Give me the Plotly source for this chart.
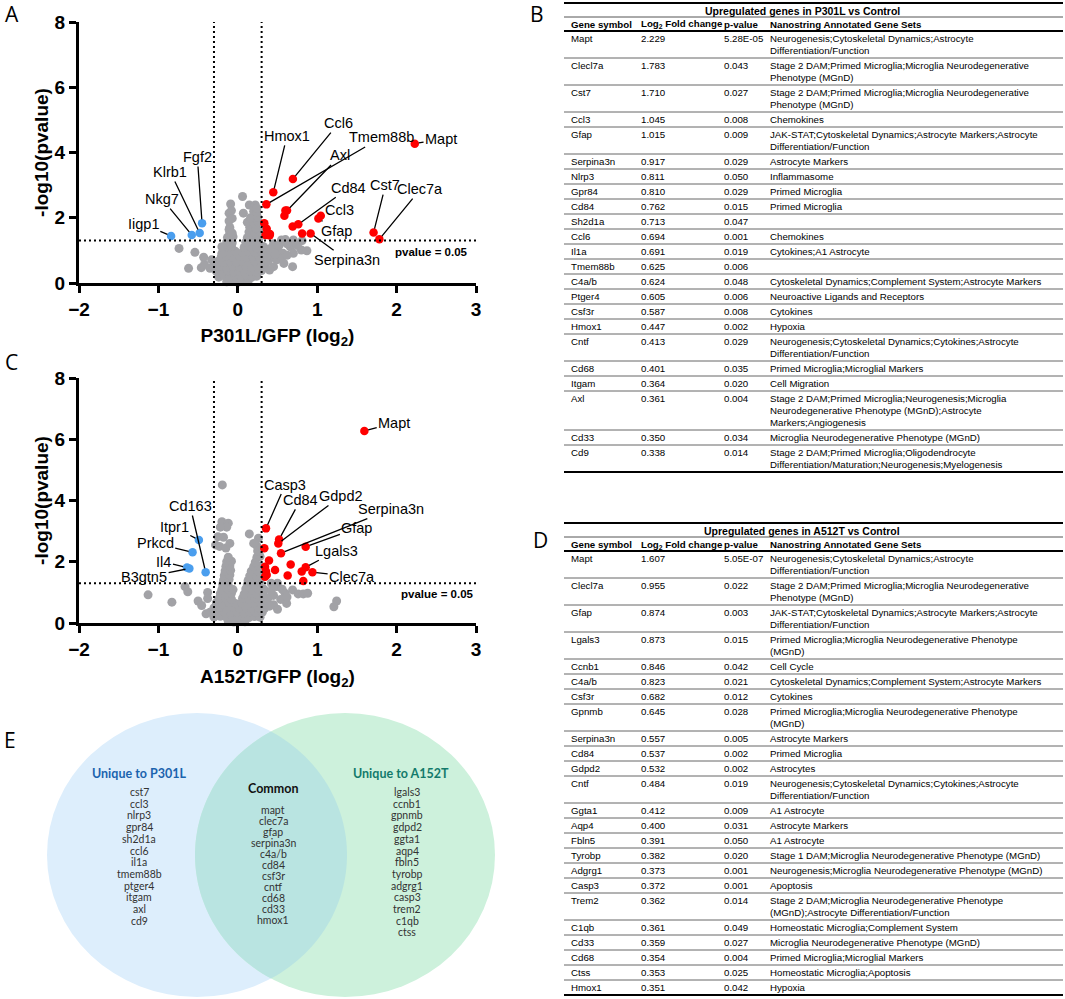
import numpy as np
import plotly.graph_objects as go

W, H = 1065, 999

# ---------- panel A: P301L vs GFP ----------
gray_a = [
    (-0.14, 0.04), (-0.07, 0.08), (0.0, 0.02), (0.06, 0.07), (0.13, 0.05),
    (-0.24, 0.18), (-0.17, 0.22), (-0.1, 0.17), (-0.03, 0.21), (0.04, 0.19), (0.11, 0.23), (0.18, 0.18), (0.24, 0.21),
    (-0.27, 0.36), (-0.2, 0.33), (-0.12, 0.37), (-0.05, 0.34), (0.02, 0.36), (0.09, 0.33), (0.16, 0.37), (0.23, 0.34), (0.3, 0.38),
    (-0.29, 0.49), (-0.22, 0.52), (-0.14, 0.48), (-0.06, 0.51), (0.02, 0.49), (0.1, 0.52), (0.18, 0.48), (0.26, 0.51), (0.34, 0.5),
    (-0.25, 0.66), (-0.18, 0.63), (-0.1, 0.67), (-0.02, 0.64), (0.06, 0.66), (0.14, 0.63), (0.22, 0.67), (0.3, 0.64), (0.38, 0.66),
    (-0.21, 0.79), (-0.14, 0.82), (-0.06, 0.78), (0.03, 0.81), (0.11, 0.79), (0.19, 0.82), (0.27, 0.79), (0.35, 0.81), (0.42, 0.78),
    (-0.18, 0.96), (-0.1, 0.93), (-0.03, 0.97), (0.06, 0.94), (0.14, 0.96), (0.22, 0.93), (0.3, 0.97), (0.38, 0.95),
    (-0.16, 1.1), (-0.08, 1.12), (0.08, 1.09), (0.16, 1.11), (0.24, 1.08), (0.32, 1.12),
    (-0.14, 1.26), (-0.07, 1.23), (0.1, 1.25), (0.18, 1.27), (0.26, 1.24),
    (-0.13, 1.4), (-0.06, 1.42), (0.12, 1.39), (0.2, 1.41), (0.27, 1.38),
    (-0.1, 1.55), (0.14, 1.56), (0.22, 1.53), (0.28, 1.57),
    (-0.1, 1.7), (0.15, 1.71), (0.23, 1.68),
    (0.12, 1.86), (0.2, 1.84), (0.26, 1.87),
    (0.16, 2.0), (0.25, 2.02), (0.2, 2.2), (0.24, 2.18),
    (0.06, 2.65), (-0.09, 2.42), (-0.11, 2.14), (-0.08, 2.22), (0.145, 2.39), (0.22, 2.39), (0.24, 2.29), (0.07, 2.14),
    (-0.11, 1.9), (-0.07, 1.98), (-0.11, 1.64), (-0.07, 1.53),
    (-0.74, 1.06), (-0.54, 0.94), (-0.62, 0.45), (-0.46, 0.47), (-0.42, 0.57), (-0.35, 0.45), (-0.33, 0.71),
    (-0.43, 0.79), (-0.2, 0.91), (-0.2, 1.11),
    (0.55, 1.32), (0.6, 1.33), (0.7, 1.32), (0.66, 1.11), (0.7, 0.91), (0.69, 0.5), (0.8, 1.01), (0.87, 0.99),
    (0.81, 1.3), (0.57, 0.91), (0.49, 0.71), (0.45, 0.5), (0.36, 0.8), (0.5, 1.0), (0.45, 1.2), (0.55, 0.75), (0.62, 0.85),
    (0.4, 1.05), (0.47, 0.88), (0.52, 1.15), (0.58, 0.6), (0.4, 0.4), (0.62, 1.2), (0.75, 1.15),
]
red_a_genes = ["Mapt", "Clec7a", "Cst7", "Ccl3", "Gfap", "Serpina3n", "Gpr84", "Cd84", "Ccl6", "Il1a",
               "Axl", "Tmem88b", "Csf3r", "Hmox1", "Cntf", "Cd68", "Itgam", "Cd33", "Cd9", "Ptger4"]
red_a_x = [2.229, 1.783, 1.710, 1.045, 1.015, 0.917, 0.810, 0.762, 0.694, 0.691,
           0.62, 0.36, 0.587, 0.447, 0.405, 0.401, 0.364, 0.350, 0.334, 0.600]
red_a_y = [4.27, 1.34, 1.55, 2.06, 1.98, 1.52, 1.52, 1.80, 3.19, 1.73,
           2.22, 2.41, 2.06, 2.78, 1.50, 1.46, 1.66, 1.47, 1.83, 2.22]
blue_a_genes = ["Iigp1", "Nkg7", "Klrb1", "Fgf2"]
blue_a_x = [-0.84, -0.58, -0.48, -0.45]
blue_a_y = [1.44, 1.47, 1.53, 1.83]
# where each label sits
label_a = {"Mapt": (2.56, 4.42), "Ccl6": (1.27, 4.90), "Hmox1": (0.62, 4.51), "Tmem88b": (1.81, 4.46),
           "Axl": (1.29, 3.91), "Cd84": (1.40, 2.92), "Ccl3": (1.28, 2.24), "Gfap": (1.24, 1.60),
           "Serpina3n": (1.37, 0.71), "Cst7": (1.86, 3.0), "Clec7a": (2.30, 2.88),
           "Iigp1": (-1.19, 1.81), "Nkg7": (-0.95, 2.57), "Klrb1": (-0.85, 3.40), "Fgf2": (-0.51, 3.86)}

# ---------- panel C: A152T vs GFP ----------
gray_c = [
    (-0.12, 0.05), (-0.05, 0.03), (0.02, 0.06), (0.09, 0.04),
    (-0.3, 0.19), (-0.22, 0.22), (-0.14, 0.18), (-0.07, 0.21), (0.0, 0.19), (0.07, 0.22), (0.14, 0.18), (0.21, 0.21), (0.28, 0.19),
    (-0.33, 0.36), (-0.25, 0.33), (-0.17, 0.37), (-0.09, 0.34), (-0.01, 0.36), (0.07, 0.33), (0.15, 0.37), (0.23, 0.34), (0.31, 0.36),
    (-0.3, 0.49), (-0.22, 0.52), (-0.14, 0.48), (-0.06, 0.51), (0.02, 0.49), (0.1, 0.52), (0.18, 0.48), (0.26, 0.51), (0.34, 0.49),
    (-0.27, 0.66), (-0.19, 0.63), (-0.11, 0.67), (-0.03, 0.64), (0.05, 0.66), (0.13, 0.63), (0.21, 0.67), (0.29, 0.64), (0.37, 0.66),
    (-0.24, 0.79), (-0.16, 0.82), (-0.08, 0.78), (0.06, 0.81), (0.14, 0.79), (0.22, 0.82), (0.3, 0.79), (0.38, 0.81),
    (-0.22, 0.96), (-0.15, 0.93), (-0.08, 0.97), (0.08, 0.94), (0.16, 0.96), (0.24, 0.93), (0.32, 0.97),
    (-0.2, 1.1), (-0.13, 1.12), (-0.06, 1.09), (0.1, 1.11), (0.18, 1.08), (0.26, 1.12), (0.33, 1.1),
    (-0.19, 1.26), (-0.12, 1.23), (0.12, 1.25), (0.2, 1.27), (0.27, 1.24),
    (-0.18, 1.4), (-0.11, 1.42), (0.13, 1.39), (0.21, 1.41), (0.28, 1.38),
    (-0.17, 1.55), (-0.1, 1.57), (0.15, 1.54), (0.23, 1.56), (0.29, 1.53),
    (-0.16, 1.7), (-0.09, 1.72), (0.17, 1.69), (0.25, 1.71),
    (-0.15, 1.85), (-0.1, 1.87), (0.2, 1.84), (0.27, 1.86),
    (-0.14, 2.0), (-0.08, 2.02), (0.22, 1.99),
    (-0.12, 2.15), (0.24, 2.14), (0.28, 2.17), (0.25, 2.35),
    (-0.195, 4.51), (-0.2, 3.31), (-0.12, 3.26), (-0.14, 3.13), (-0.22, 3.13), (-0.25, 2.82), (-0.18, 2.8),
    (0.145, 2.91), (0.26, 2.77), (0.24, 2.52), (-0.23, 2.5), (-0.15, 2.45), (-0.1, 2.6), (-0.28, 2.55), (0.2, 2.6),
    (-1.13, 0.92), (-0.83, 0.68), (-0.665, 1.19), (-0.63, 1.02), (-0.5, 0.72), (-0.455, 0.57), (-0.38, 1.0),
    (-0.38, 0.8), (-0.35, 0.35), (-0.4, 0.3),
    (0.49, 1.19), (0.595, 0.97), (0.69, 1.08), (0.76, 0.95), (0.825, 0.95), (0.88, 0.97), (1.245, 0.72),
    (1.21, 0.53), (0.615, 0.64), (0.54, 0.77), (0.45, 0.9), (0.5, 0.45), (0.42, 1.3), (0.45, 0.6),
    (0.42, 1.05), (0.5, 1.3), (0.56, 1.1), (0.4, 0.55), (0.62, 0.85),
]
red_c_genes = ["Mapt", "Casp3", "Cd84", "Gdpd2", "Cd68", "Serpina3n", "Gfap", "Ggta1", "Trem2", "Tyrobp",
               "Aqp4", "Cntf", "Csf3r", "Gpnmb", "Lgals3", "C4a/b", "Clec7a", "Ccnb1", "Ctss"]
red_c_x = [1.594, 0.355, 0.52, 0.51, 0.334, 0.544, 0.855, 0.393, 0.343, 0.355,
           0.364, 0.469, 0.666, 0.628, 0.855, 0.805, 0.94, 0.825, 0.343]
red_c_y = [6.27, 3.09, 2.73, 2.60, 2.44, 2.28, 2.49, 2.04, 1.84, 1.68,
           1.57, 1.73, 1.91, 1.55, 1.82, 1.68, 1.66, 1.37, 1.51]
blue_c_genes = ["Itpr1", "Prkcd", "Il4", "B3gtn5", "Cd163"]
blue_c_x = [-0.49, -0.57, -0.64, -0.61, -0.405]
blue_c_y = [2.71, 2.31, 1.81, 1.78, 1.66]
label_c = {"Mapt": (1.97, 6.53), "Casp3": (0.60, 4.52), "Cd84": (0.79, 4.02), "Gdpd2": (1.30, 4.15),
           "Serpina3n": (1.93, 3.72), "Gfap": (1.50, 3.09), "Lgals3": (1.245, 2.36), "Clec7a": (1.44, 1.51),
           "Itpr1": (-0.80, 3.13), "Prkcd": (-1.04, 2.60), "Il4": (-0.93, 1.99), "B3gtn5": (-1.18, 1.49),
           "Cd163": (-0.60, 3.82)}

fc_cut = 0.3
p_cut = 1.3

# ---------- table B ----------
genes_b = ["Mapt", "Clecl7a", "Cst7", "Ccl3", "Gfap", "Serpina3n", "Nlrp3", "Gpr84", "Cd84", "Sh2d1a", "Ccl6",
           "Il1a", "Tmem88b", "C4a/b", "Ptger4", "Csf3r", "Hmox1", "Cntf", "Cd68", "Itgam", "Axl", "Cd33", "Cd9"]
fc_b = ["2.229", "1.783", "1.710", "1.045", "1.015", "0.917", "0.811", "0.810", "0.762", "0.713", "0.694",
        "0.691", "0.625", "0.624", "0.605", "0.587", "0.447", "0.413", "0.401", "0.364", "0.361", "0.350", "0.338"]
p_b = ["5.28E-05", "0.043", "0.027", "0.008", "0.009", "0.029", "0.050", "0.029", "0.015", "0.047", "0.001",
       "0.019", "0.006", "0.048", "0.006", "0.008", "0.002", "0.029", "0.035", "0.020", "0.004", "0.034", "0.014"]
sets_b = [
    "Neurogenesis;Cytoskeletal Dynamics;Astrocyte\nDifferentiation/Function",
    "Stage 2 DAM;Primed Microglia;Microglia Neurodegenerative\nPhenotype (MGnD)",
    "Stage 2 DAM;Primed Microglia;Microglia Neurodegenerative\nPhenotype (MGnD)",
    "Chemokines",
    "JAK-STAT;Cytoskeletal Dynamics;Astrocyte Markers;Astrocyte\nDifferentiation/Function",
    "Astrocyte Markers",
    "Inflammasome",
    "Primed Microglia",
    "Primed Microglia",
    "",
    "Chemokines",
    "Cytokines;A1 Astrocyte",
    "",
    "Cytoskeletal Dynamics;Complement System;Astrocyte Markers",
    "Neuroactive Ligands and Receptors",
    "Cytokines",
    "Hypoxia",
    "Neurogenesis;Cytoskeletal Dynamics;Cytokines;Astrocyte\nDifferentiation/Function",
    "Primed Microglia;Microglial Markers",
    "Cell Migration",
    "Stage 2 DAM;Primed Microglia;Neurogenesis;Microglia\nNeurodegenerative Phenotype (MGnD);Astrocyte\nMarkers;Angiogenesis",
    "Microglia Neurodegenerative Phenotype (MGnD)",
    "Stage 2 DAM;Primed Microglia;Oligodendrocyte\nDifferentiation/Maturation;Neurogenesis;Myelogenesis",
]

# ---------- table D ----------
genes_d = ["Mapt", "Clecl7a", "Gfap", "Lgals3", "Ccnb1", "C4a/b", "Csf3r", "Gpnmb", "Serpina3n", "Cd84", "Gdpd2",
           "Cntf", "Ggta1", "Aqp4", "Fbln5", "Tyrobp", "Adgrg1", "Casp3", "Trem2", "C1qb", "Cd33", "Cd68", "Ctss", "Hmox1"]
fc_d = ["1.607", "0.955", "0.874", "0.873", "0.846", "0.823", "0.682", "0.645", "0.557", "0.537", "0.532",
        "0.484", "0.412", "0.400", "0.391", "0.382", "0.373", "0.372", "0.362", "0.361", "0.359", "0.354", "0.353", "0.351"]
p_d = ["5.05E-07", "0.022", "0.003", "0.015", "0.042", "0.021", "0.012", "0.028", "0.005", "0.002", "0.002",
       "0.019", "0.009", "0.031", "0.050", "0.020", "0.001", "0.001", "0.014", "0.049", "0.027", "0.004", "0.025", "0.042"]
sets_d = [
    "Neurogenesis;Cytoskeletal Dynamics;Astrocyte\nDifferentiation/Function",
    "Stage 2 DAM;Primed Microglia;Microglia Neurodegenerative\nPhenotype (MGnD)",
    "JAK-STAT;Cytoskeletal Dynamics;Astrocyte Markers;Astrocyte\nDifferentiation/Function",
    "Primed Microglia;Microglia Neurodegenerative Phenotype\n(MGnD)",
    "Cell Cycle",
    "Cytoskeletal Dynamics;Complement System;Astrocyte Markers",
    "Cytokines",
    "Primed Microglia;Microglia Neurodegenerative Phenotype\n(MGnD)",
    "Astrocyte Markers",
    "Primed Microglia",
    "Astrocytes",
    "Neurogenesis;Cytoskeletal Dynamics;Cytokines;Astrocyte\nDifferentiation/Function",
    "A1 Astrocyte",
    "Astrocyte Markers",
    "A1 Astrocyte",
    "Stage 1 DAM;Microglia Neurodegenerative Phenotype (MGnD)",
    "Neurogenesis;Microglia Neurodegenerative Phenotype (MGnD)",
    "Apoptosis",
    "Stage 2 DAM;Microglia Neurodegenerative Phenotype\n(MGnD);Astrocyte Differentiation/Function",
    "Homeostatic Microglia;Complement System",
    "Microglia Neurodegenerative Phenotype (MGnD)",
    "Primed Microglia;Microglial Markers",
    "Homeostatic Microglia;Apoptosis",
    "Hypoxia",
]
headers = ["Gene symbol", "Log<sub>2</sub> Fold change", "p-value", "Nanostring Annotated Gene Sets"]

# ---------- venn E ----------
unique_p301l = ["cst7", "ccl3", "nlrp3", "gpr84", "sh2d1a", "ccl6", "il1a", "tmem88b", "ptger4", "itgam", "axl", "cd9"]
common = ["mapt", "clec7a", "gfap", "serpina3n", "c4a/b", "cd84", "csf3r", "cntf", "cd68", "cd33", "hmox1"]
unique_a152t = ["lgals3", "ccnb1", "gpnmb", "gdpd2", "ggta1", "aqp4", "fbln5", "tyrobp", "adgrg1", "casp3",
                "trem2", "c1qb", "ctss"]

ARIAL = "Liberation Sans, Arial, sans-serif"
TABLE_FONT = "Liberation Sans, Arial, sans-serif"
VENN_FONT = "Lato, Noto Sans, sans-serif"


def px(x):
    return x / W


def py(y):
    return 1 - y / H


fig = go.Figure()
annotations = []
shapes = []


def volcano(xa, ya, gray, rg, rx, ry, bg, bx, by, labels, pv_x):
    gx, gy = zip(*gray)
    fig.add_trace(go.Scatter(x=gx, y=gy, mode="markers", xaxis=xa, yaxis=ya, cliponaxis=False,
                             marker=dict(size=9, color="#A2A2A6")))
    fig.add_trace(go.Scatter(x=rx, y=ry, mode="markers", xaxis=xa, yaxis=ya, cliponaxis=False,
                             marker=dict(size=8.5, color="#FF0000")))
    fig.add_trace(go.Scatter(x=bx, y=by, mode="markers", xaxis=xa, yaxis=ya, cliponaxis=False,
                             marker=dict(size=8.5, color="#4A9EEE")))
    pts = dict(zip(rg, zip(rx, ry)))
    pts.update(dict(zip(bg, zip(bx, by))))
    for name, (tx, ty) in labels.items():
        x, y = pts[name]
        annotations.append(dict(x=x, y=y, ax=tx, ay=ty, xref=xa, yref=ya, axref=xa, ayref=ya,
                                text=name, showarrow=True, arrowhead=0, arrowwidth=1.3, arrowcolor="black",
                                standoff=4, font=dict(family=ARIAL, size=14.5, color="black")))
    dot = dict(color="black", width=2, dash="2px,3px")
    for xv in (-fc_cut, fc_cut):
        shapes.append(dict(type="line", xref=xa, yref=ya, x0=xv, x1=xv, y0=0, y1=8, line=dot))
    shapes.append(dict(type="line", xref=xa, yref=ya, x0=-2, x1=3, y0=p_cut, y1=p_cut, line=dot))
    annotations.append(dict(x=pv_x, y=0.95, xref=xa, yref=ya, xanchor="right", showarrow=False,
                            text="<b>pvalue = 0.05</b>", font=dict(family=ARIAL, size=11.5, color="black")))


volcano("x", "y", gray_a, red_a_genes, red_a_x, red_a_y, blue_a_genes, blue_a_x, blue_a_y, label_a, 2.93)
volcano("x2", "y2", gray_c, red_c_genes, red_c_x, red_c_y, blue_c_genes, blue_c_x, blue_c_y, label_c, 3.0)


def txt(x, y, s, size=9.7, family=TABLE_FONT, anchor="left", color="black", bold=False):
    if bold:
        s = "<b>" + s + "</b>"
    annotations.append(dict(x=px(x), y=py(y), xref="paper", yref="paper", text=s, showarrow=False,
                            xanchor=anchor, yanchor="middle", font=dict(family=family, size=size, color=color)))


def hline(y, width, color):
    shapes.append(dict(type="line", xref="paper", yref="paper", x0=px(564), x1=px(1063), y0=py(y), y1=py(y),
                       line=dict(color=color, width=width)))


def table(top, title, genes, fcs, ps, sets):
    cols = [569, 639, 722, 768]
    hline(top, 2, "black")
    txt(802, top + 7.5, title, size=10.5, anchor="center", bold=True)
    hline(top + 14, 1, "#555")
    for c, h in zip(cols, headers):
        txt(c, top + 21.5, h, size=9.7, bold=True)
    hline(top + 28, 2, "black")
    y = top + 28
    for i in range(len(genes)):
        lines = sets[i].split("\n")
        ty = y + 7.5
        txt(cols[0], ty, genes[i])
        txt(cols[1], ty, fcs[i])
        txt(cols[2], ty, ps[i])
        for k, ln in enumerate(lines):
            if ln:
                txt(cols[3], ty + 12 * k, ln)
        y += 3 + 12 * len(lines)
        last = i == len(genes) - 1
        hline(y, 2 if last else 1, "black" if last else "#666")


table(3, "Upregulated genes in P301L vs Control", genes_b, fc_b, p_b, sets_b)
table(523, "Upregulated genes in A512T vs Control", genes_d, fc_d, p_d, sets_d)

# venn circles
cy, rxe, rye = 855, 150, 142
cxl, cxr = 197, 345
for cx, col in ((cxl, "#DDEEFC"), (cxr, "#CDF1DC")):
    shapes.append(dict(type="circle", xref="paper", yref="paper", layer="below",
                       x0=px(cx - rxe), x1=px(cx + rxe), y0=py(cy + rye), y1=py(cy - rye),
                       fillcolor=col, line=dict(width=0)))
half = np.arccos((cxr - cxl) / 2 / rxe)
t = np.linspace(-half, half, 60)
lens_x = np.concatenate([cxl + rxe * np.cos(t), cxr - rxe * np.cos(t[::-1])])
lens_y = np.concatenate([cy - rye * np.sin(t), cy - rye * np.sin(t[::-1])])
path = "M " + " L ".join(f"{px(a):.5f},{py(b):.5f}" for a, b in zip(lens_x, lens_y)) + " Z"
shapes.append(dict(type="path", xref="paper", yref="paper", layer="below", path=path,
                   fillcolor="#B9E4E1", line=dict(width=0)))

txt(139, 773, "Unique to P301L", size=12.5, family=VENN_FONT, anchor="center", color="#1B63AE", bold=True)
txt(273, 788, "Common", size=12.5, family=VENN_FONT, anchor="center", color="#111", bold=True)
txt(401, 773, "Unique to A152T", size=12.5, family=VENN_FONT, anchor="center", color="#137A6B", bold=True)
for k, g in enumerate(unique_p301l):
    txt(139, 792 + 11.7 * k, g, size=10.5, family=VENN_FONT, anchor="center", color="#333")
for k, g in enumerate(common):
    txt(273, 810 + 11.0 * k, g, size=10.5, family=VENN_FONT, anchor="center", color="#333")
for k, g in enumerate(unique_a152t):
    txt(407, 792 + 11.7 * k, g, size=10.5, family=VENN_FONT, anchor="center", color="#333")

# panel letters
for letter, (lx, ly) in {"A": (12, 14), "B": (537, 14), "C": (11, 362), "D": (540, 540), "E": (10, 740)}.items():
    txt(lx, ly, letter, size=21, family="Open Sans, sans-serif", anchor="center")

axis_common = dict(showline=True, linewidth=3, linecolor="black", ticks="outside", ticklen=7, tickwidth=3,
                   tickcolor="black", showgrid=False, zeroline=False,
                   tickfont=dict(family=ARIAL, size=19, color="black", weight="bold"))
title_font = dict(family=ARIAL, size=19, color="black", weight="bold")
xdom = [px(79), px(476)]
fig.update_layout(
    template="none", width=W, height=H, margin=dict(l=0, r=0, t=0, b=0),
    paper_bgcolor="white", plot_bgcolor="rgba(0,0,0,0)", showlegend=False,
    xaxis=dict(domain=xdom, range=[-2, 3], dtick=1, anchor="y",
               title=dict(text="P301L/GFP (log<sub>2</sub>)", standoff=10, font=title_font), **axis_common),
    yaxis=dict(domain=[py(283), py(22)], range=[0, 8], dtick=2, anchor="x",
               title=dict(text="-log10(pvalue)", standoff=1, font=title_font), **axis_common),
    xaxis2=dict(domain=xdom, range=[-2, 3], dtick=1, anchor="y2",
                title=dict(text="A152T/GFP (log<sub>2</sub>)", standoff=11, font=title_font), **axis_common),
    yaxis2=dict(domain=[py(623), py(378)], range=[0, 8], dtick=2, anchor="x2",
                title=dict(text="-log10(pvalue)", standoff=1, font=title_font), **axis_common),
    annotations=annotations, shapes=shapes,
)

fig.write_html("out.html", config={"displayModeBar": False},
               post_script="document.body.style.margin='0';")
